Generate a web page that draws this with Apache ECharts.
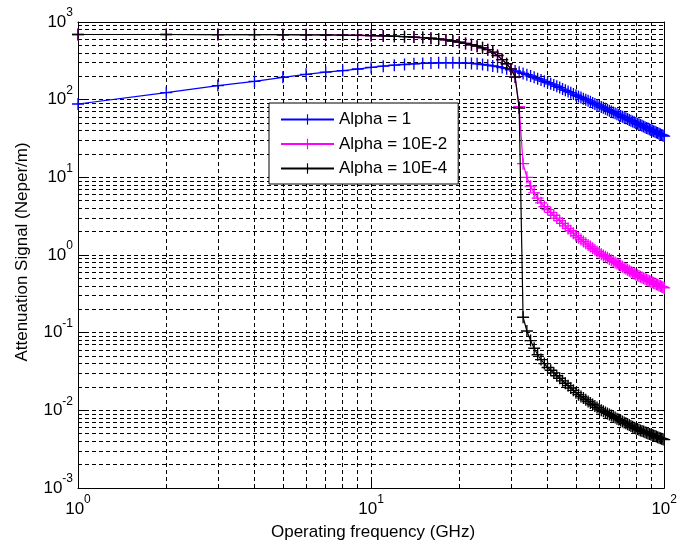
<!DOCTYPE html>
<html>
<head>
<meta charset="utf-8">
<script src="https://cdn.jsdelivr.net/npm/echarts@6/dist/echarts.min.js"></script>
<style>html,body{margin:0;padding:0;background:#fff}#c{width:680px;height:545px}</style>
</head>
<body>
<div id="c"></div>
<script>
// Operating frequency (GHz) sample points
const frequencies = [1,2,3,4,5,6,7,8,9,10,11,12,13,14,15,16,17,18,19,20,21,22,23,24,25,26,27,28,29,30,31,32,33,34,35,36,37,38,39,40,41,42,43,44,45,46,47,48,49,50,51,52,53,54,55,56,57,58,59,60,61,62,63,64,65,66,67,68,69,70,71,72,73,74,75,76,77,78,79,80,81,82,83,84,85,86,87,88,89,90,91,92,93,94,95,96,97,98,99,100];

// Attenuation (Neper/m), Alpha = 1
const alpha1 = [88,123,152,172,194,212,226,237,248,260,270,278,284,289,293,296,298,299,299,298,296,293,289,284,278,272,266,259,251,243,234,226,218,210,202,194,186,179,172,166,160,155,149,143,137,132,127,123,118,114,110,107,103,100,96.7,93.7,90.8,88.1,85.5,83.0,80.7,78.4,76.2,74.2,72.2,70.3,68.5,66.7,65.0,63.4,61.8,60.3,58.9,57.5,56.2,54.9,53.7,52.5,51.3,50.2,49.1,48.1,47.1,46.1,45.1,44.2,43.3,42.5,41.6,40.8,40.1,39.3,38.6,37.8,37.2,36.5,35.8,35.2,34.6,34.0];

// Alpha = 10E-2
const alpha1e2 = [690,690,689,688,686,684,681,678,674,668,662,655,648,640,630,618,604,588,570,550,530,510,488,465,440,410,370,328,290,249,196,81,15,10,7.7,6.3,5.4,4.7,4.2,3.84,3.53,3.25,2.99,2.77,2.56,2.37,2.20,2.05,1.91,1.77,1.666,1.578,1.497,1.421,1.350,1.284,1.223,1.165,1.111,1.06,1.022,0.986,0.951,0.919,0.888,0.858,0.830,0.803,0.777,0.753,0.730,0.707,0.686,0.666,0.646,0.627,0.609,0.592,0.576,0.560,0.548,0.536,0.525,0.514,0.503,0.493,0.483,0.473,0.464,0.454,0.446,0.437,0.429,0.421,0.413,0.405,0.398,0.391,0.384,0.377];

// Alpha = 10E-4
const alpha1e4 = [690,690,689,688,686,684,681,678,674,668,662,655,648,640,630,618,604,588,570,550,530,510,488,465,440,410,370,328,290,249,196,78,0.158,0.105,0.079,0.063,0.052,0.045,0.040,0.0356,0.0328,0.0303,0.0279,0.0259,0.0240,0.0223,0.0208,0.0194,0.0181,0.0169,0.0159,0.0151,0.0144,0.0137,0.0130,0.0124,0.0119,0.0114,0.0109,0.0104,0.01005,0.00972,0.00941,0.00912,0.00884,0.00856,0.00831,0.00806,0.00782,0.00761,0.00740,0.00718,0.00699,0.00681,0.00663,0.00645,0.00628,0.00613,0.00598,0.00583,0.00573,0.00562,0.00552,0.00542,0.00532,0.00523,0.00514,0.00505,0.00497,0.00488,0.00481,0.00473,0.00466,0.00459,0.00451,0.00444,0.00438,0.00432,0.00425,0.00419];

const seriesNames = ['Alpha = 1', 'Alpha = 10E-2', 'Alpha = 10E-4'];
const seriesColors = ['#0000ff', '#ff00ff', '#000000'];
const xDecades = [1, 10];        // decade starts on the frequency axis
const yDecades = [0.001, 0.01, 0.1, 1, 10, 100];
const xMin = 1, xMax = 100, yMin = 0.001, yMax = 1000;
const xAxisTitle = 'Operating frequency (GHz)';
const yAxisTitle = 'Attenuation Signal (Neper/m)';

const FONT = '"Liberation Sans", Arial, sans-serif';
const plus = 'path://M4,0h1v4h4v1h-4v4h-1v-4h-4v-1h4z';

function pairs(vals) { return frequencies.map((f, i) => [f, vals[i]]); }
function nice(v) { return parseFloat(v.toPrecision(6)); }

// grid lines (MATLAB style: every 1..9 x 10^k)
const gridLines = [];
xDecades.forEach(d => {
  for (let k = 1; k <= 9; k++) {
    const v = nice(k * d);
    if (v <= xMin || v >= xMax) continue;
    gridLines.push({ coords: [[v, yMin], [v, yMax]] });
  }
});
yDecades.forEach(d => {
  for (let k = 1; k <= 9; k++) {
    const v = nice(k * d);
    if (v <= yMin || v >= yMax) continue;
    gridLines.push({ coords: [[xMin, v], [xMax, v]] });
  }
});

const rich = {
  b: { fontSize: 17, lineHeight: 30, fontFamily: FONT, color: '#000' },
  s: { fontSize: 12, lineHeight: 12, verticalAlign: 'top', fontFamily: FONT, color: '#000' }
};
const expFmt = v => '{b|10}{s|' + Math.round(Math.log10(v)) + '}';

const axisCommonX = {
  type: 'log', logBase: 10, min: xMin, max: xMax,
  axisLine: { show: true, onZero: false, lineStyle: { color: '#000', width: 1 } },
  axisTick: { show: true, inside: true, length: 7, lineStyle: { color: '#000' } },
  splitLine: { show: false }, minorTick: { show: false }
};
const axisCommonY = {
  type: 'log', logBase: 10, min: yMin, max: yMax,
  axisLine: { show: true, onZero: false, lineStyle: { color: '#000', width: 1 } },
  axisTick: { show: true, inside: true, length: 7, lineStyle: { color: '#000' } },
  splitLine: { show: false }, minorTick: { show: false }
};

const chart = echarts.init(document.getElementById('c'), null, { renderer: 'canvas' });
chart.setOption({
  animation: false,
  backgroundColor: '#fff',
  grid: { left: 78, right: 10, top: 22, bottom: 57, containLabel: false },
  xAxis: [
    Object.assign({}, axisCommonX, { position: 'bottom',
      axisLabel: { show: true, margin: 6, formatter: expFmt, rich: rich } }),
    Object.assign({}, axisCommonX, { position: 'top', axisLabel: { show: false } })
  ],
  yAxis: [
    Object.assign({}, axisCommonY, { position: 'left',
      axisLabel: { show: true, margin: 5, formatter: expFmt, rich: rich } }),
    Object.assign({}, axisCommonY, { position: 'right', axisLabel: { show: false } })
  ],
  legend: {
    data: seriesNames,
    orient: 'vertical',
    left: 269, top: 103,
    padding: [8, 11, 7, 11],
    itemGap: 7.5,
    itemWidth: 53, itemHeight: 13,
    backgroundColor: '#fff',
    borderColor: '#000', borderWidth: 1, borderRadius: 0,
    textStyle: { fontSize: 17, lineHeight: 17, fontFamily: FONT, color: '#000' },
    z: 10
  },
  graphic: [
    { type: 'text', x: 373, y: 532, z: 10,
      style: { text: xAxisTitle, font: '17px ' + FONT, fill: '#000', align: 'center', verticalAlign: 'middle' } },
    { type: 'text', x: 22, y: 252, rotation: Math.PI / 2, z: 10,
      style: { text: yAxisTitle, font: '17px ' + FONT, fill: '#000', align: 'center', verticalAlign: 'middle' } }
  ],
  series: [
    {
      type: 'lines', coordinateSystem: 'cartesian2d', xAxisIndex: 0, yAxisIndex: 0,
      silent: true, z: 1, polyline: false,
      lineStyle: { color: '#000', width: 1, type: [4, 3], opacity: 1 },
      data: gridLines
    }
  ].concat([alpha1, alpha1e2, alpha1e4].map((vals, i) => ({
    name: seriesNames[i], type: 'line', xAxisIndex: 0, yAxisIndex: 0,
    data: pairs(vals), z: 3 + i,
    symbol: plus, symbolSize: 12, showSymbol: true, showAllSymbol: true,
    color: seriesColors[i],
    itemStyle: { color: seriesColors[i] },
    lineStyle: { color: seriesColors[i], width: 1.2 },
    emphasis: { disabled: true }, silent: true
  })))
});
</script>
</body>
</html>
